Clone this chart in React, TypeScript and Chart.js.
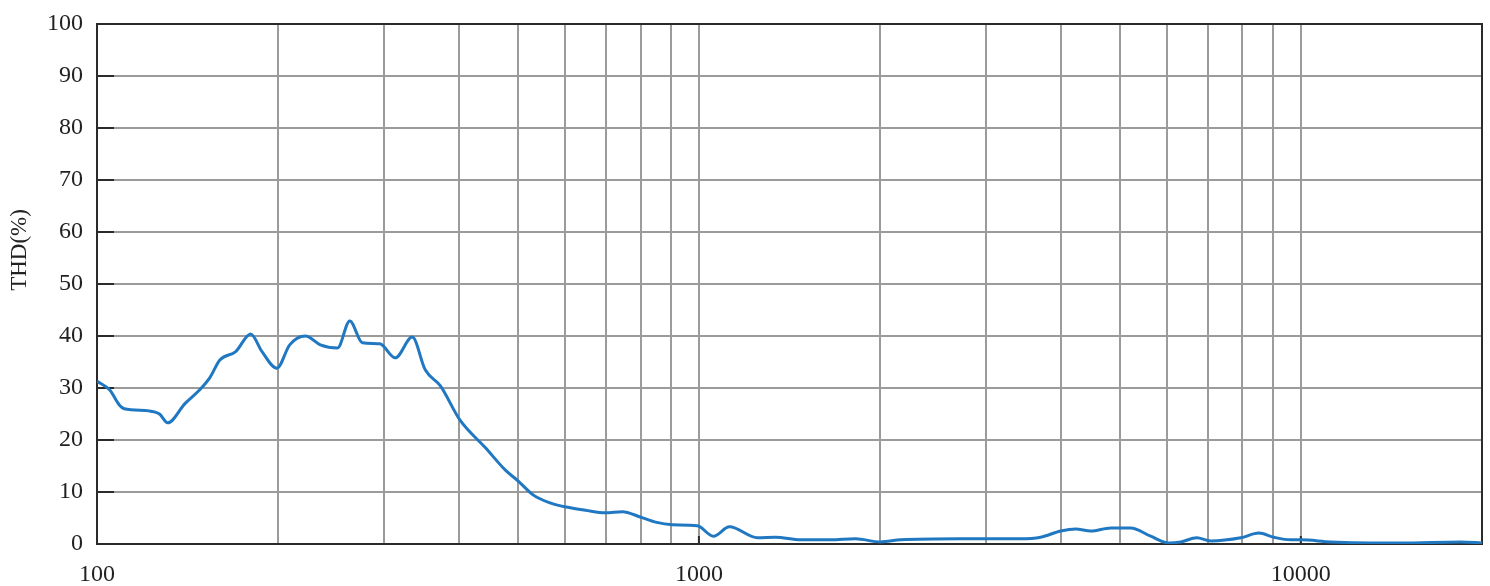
import React, { useEffect, useRef } from "react";
import { Chart, registerables } from "chart.js";

Chart.register(...registerables);

const frequencies = [
  100, 105, 109, 111, 122, 127, 131, 140, 148, 154, 160, 170, 180, 188, 199, 209, 222, 235, 251, 263,
  276, 295, 313, 334, 351, 372, 401, 442, 477, 501, 531, 566, 602, 648, 699, 746, 799, 847, 903, 994,
  1057, 1124, 1251, 1341, 1475, 1654, 1820, 2003, 2163, 2721, 3052, 3423, 3696, 3990, 4226, 4477, 4832,
  5217, 5631, 6033, 6318, 6716, 7087, 7948, 8517, 9019, 9626, 10000, 11217, 14667, 18450, 20000,
];

const thdValues = [
  31.3, 29.6, 26.7, 26.0, 25.6, 25.0, 23.3, 27.0, 29.6, 32.0, 35.4, 37.0, 40.4, 37.0, 33.8, 38.3, 40.0, 38.3, 37.7, 42.9,
  38.7, 38.5, 35.8, 39.8, 33.5, 30.4, 23.8, 18.5, 14.2, 12.1, 9.4, 7.9, 7.1, 6.5, 6.0, 6.2, 5.2, 4.2, 3.7, 3.5,
  1.5, 3.3, 1.2, 1.3, 0.8, 0.8, 1.0, 0.4, 0.8, 1.0, 1.0, 1.0, 1.3, 2.5, 2.9, 2.5, 3.1,
  3.1, 1.5, 0.2, 0.4, 1.2, 0.6, 1.2, 2.1, 1.3, 0.8, 0.8, 0.4, 0.2, 0.4, 0.2,
];

const xGridValues = [
  100, 200, 300, 400, 500, 600, 700, 800, 900, 1000, 2000, 3000, 4000, 5000, 6000, 7000, 8000, 9000, 10000, 20000,
];
const xLabelValues = [100, 1000, 10000];
const yTickValues = [0, 10, 20, 30, 40, 50, 60, 70, 80, 90, 100];
const yTitle = "THD(%)";

const FONT = "'Liberation Serif', serif";

const framePlugin = {
  id: "frame",
  beforeDatasetsDraw(chart: any) {
    const { ctx, chartArea } = chart;
    const { left, right, top, bottom } = chartArea;
    const y = chart.scales.y;
    const x = chart.scales.x;
    ctx.save();
    ctx.strokeStyle = "#2b2b2b";
    ctx.lineWidth = 2;
    yTickValues.forEach((v) => {
      const py = y.getPixelForValue(v);
      ctx.beginPath();
      ctx.moveTo(left, py);
      ctx.lineTo(left + 17, py);
      ctx.stroke();
    });
    xLabelValues.forEach((v) => {
      const px = x.getPixelForValue(v);
      ctx.beginPath();
      ctx.moveTo(px, bottom);
      ctx.lineTo(px, bottom - 8);
      ctx.stroke();
    });
    ctx.beginPath();
    ctx.rect(left, top, right - left, bottom - top);
    ctx.stroke();
    ctx.restore();
  },
  afterDraw(chart: any) {
    const { ctx } = chart;
    ctx.save();
    ctx.translate(20, 250);
    ctx.rotate(-Math.PI / 2);
    ctx.font = `23px ${FONT}`;
    ctx.fillStyle = "#222";
    ctx.textAlign = "center";
    ctx.textBaseline = "middle";
    ctx.fillText(yTitle, 0, 0);
    ctx.restore();
  },
};

export default function App() {
  const canvasRef = useRef<HTMLCanvasElement | null>(null);

  useEffect(() => {
    if (!canvasRef.current) return;
    const chart = new Chart(canvasRef.current, {
      type: "line",
      data: {
        datasets: [
          {
            data: frequencies.map((f, i) => ({ x: f, y: thdValues[i] })),
            borderColor: "#1f78c1",
            borderWidth: 3,
            pointRadius: 0,
            fill: false,
            cubicInterpolationMode: "monotone",
          },
        ],
      },
      options: {
        animation: false,
        responsive: true,
        maintainAspectRatio: false,
        layout: { padding: { left: 0, top: 24, right: 8, bottom: 0 } },
        plugins: { legend: { display: false }, tooltip: { enabled: false }, title: { display: false } },
        scales: {
          x: {
            type: "logarithmic",
            min: 100,
            max: 20000,
            afterBuildTicks: (scale: any) => {
              scale.ticks = xGridValues.map((v) => ({ value: v }));
            },
            afterFit: (scale: any) => {
              scale.height = 42;
              scale.paddingLeft = 0;
              scale.paddingRight = 0;
            },
            ticks: {
              autoSkip: false,
              maxRotation: 0,
              padding: 16,
              color: "#222",
              font: { family: FONT, size: 24 },
              callback: (v: any) => (xLabelValues.includes(Number(v)) ? String(v) : ""),
            },
            grid: { color: "#9b9b9b", lineWidth: 2, drawTicks: false },
            border: { display: false },
          },
          y: {
            min: 0,
            max: 100,
            afterBuildTicks: (scale: any) => {
              scale.ticks = yTickValues.map((v) => ({ value: v }));
            },
            afterFit: (scale: any) => {
              scale.width = 97;
              scale.paddingTop = 0;
              scale.paddingBottom = 0;
            },
            ticks: {
              padding: 14,
              color: "#222",
              font: { family: FONT, size: 24 },
            },
            grid: { color: "#9b9b9b", lineWidth: 2, drawTicks: false },
            border: { display: false },
          },
        },
      },
      plugins: [framePlugin],
    } as any);
    return () => chart.destroy();
  }, []);

  return (
    <div style={{ position: "fixed", left: 0, top: 0, width: 1490, height: 586, background: "#fff" }}>
      <canvas ref={canvasRef} />
    </div>
  );
}
